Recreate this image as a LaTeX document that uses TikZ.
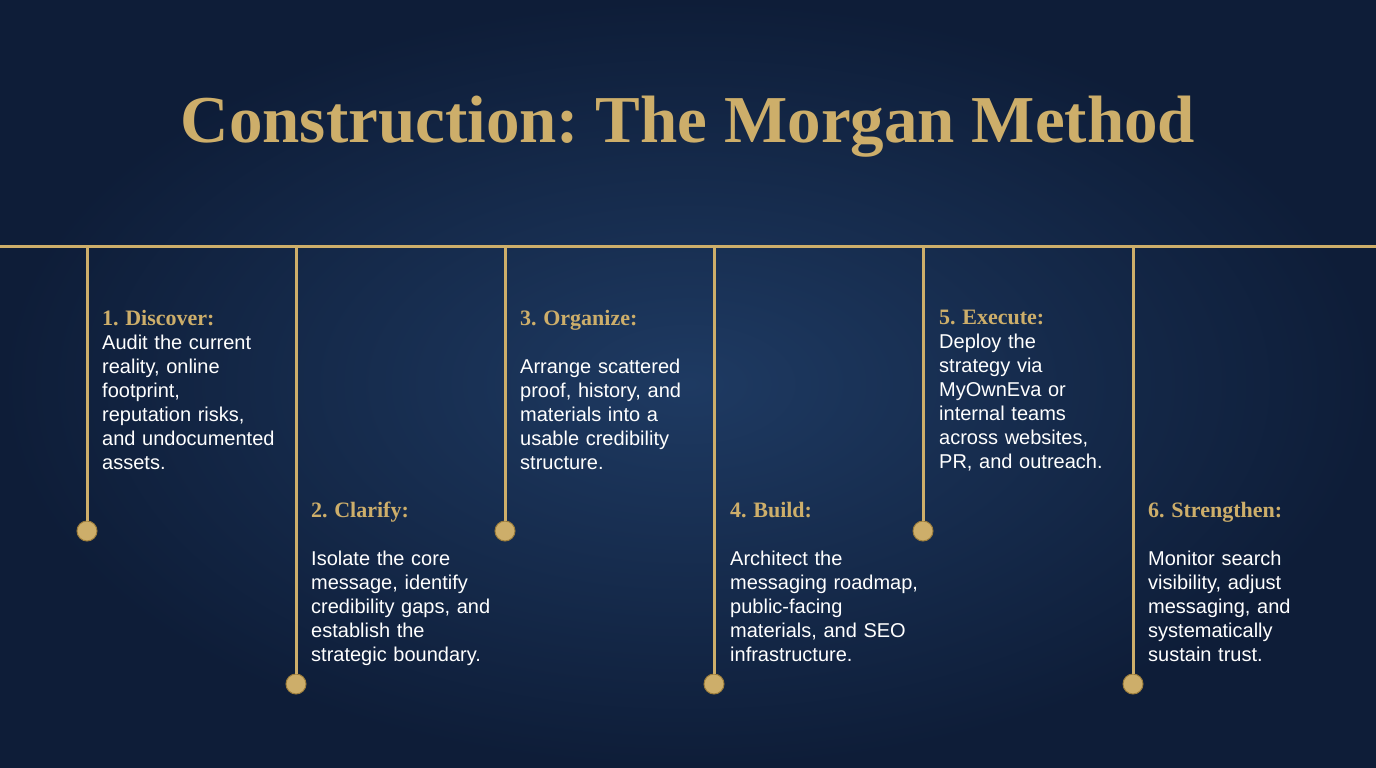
\documentclass[tikz,border=0pt]{standalone}
\usepackage{fontspec}
\setmainfont{Liberation Serif}
\setsansfont{Liberation Sans}
\frenchspacing
\begin{document}
\begin{tikzpicture}[x=1pt,y=-1pt,
  gline/.style={draw=gold,line width=3pt},
  dot/.style={circle,fill=gold,draw=golddark,line width=1pt,minimum size=20pt,inner sep=0pt},
  stepbox/.style={anchor=north west,align=left,inner sep=0pt,text=white,
    font=\sffamily\frenchspacing\fontsize{20}{24}\selectfont,text width=190pt}]
\definecolor{gold}{HTML}{CDAE6A}
\definecolor{golddark}{HTML}{9C7D3C}
\definecolor{bgin}{HTML}{1E3A62}
\definecolor{bgout}{HTML}{0E1D38}
\newcommand{\hd}[1]{{\rmfamily\bfseries\color{gold}\fontsize{22}{24}\selectfont #1}}
\useasboundingbox (0,0) rectangle (1376,768);
\shade[inner color=bgin,outer color=bgout] (0,0) rectangle (1376,768);
\node (title) at (688,127) {\rmfamily\bfseries\color{gold}\fontsize{67}{74}\selectfont Construction: The Morgan Method};
\coordinate (L) at (0,246);
\coordinate (R) at (1376,246);
\draw[gline] (L) -- (R);
\foreach \i/\x/\y in {1/87/531,2/296/684,3/505/531,4/714/684,5/923/531,6/1133/684}{
  \coordinate (t\i) at (\x,246);
  \node[dot] (d\i) at (\x,\y) {};
  \draw[gline] (t\i) -- (d\i.north);
}
\node[stepbox] (s1) at (102,310) {\hd{1. Discover:}\\Audit the current\\reality, online\\footprint,\\reputation risks,\\and undocumented\\assets.};
\node[stepbox] (s2) at (311,502) {\hd{2. Clarify:}\\[24pt]Isolate the core\\message, identify\\credibility gaps, and\\establish the\\strategic boundary.};
\node[stepbox] (s3) at (520,310) {\hd{3. Organize:}\\[24pt]Arrange scattered\\proof, history, and\\materials into a\\usable credibility\\structure.};
\node[stepbox] (s4) at (730,502) {\hd{4. Build:}\\[24pt]Architect the\\messaging roadmap,\\public-facing\\materials, and SEO\\infrastructure.};
\node[stepbox] (s5) at (939,310) {\hd{5. Execute:}\\Deploy the\\strategy via\\MyOwnEva or\\internal teams\\across websites,\\PR, and outreach.};
\node[stepbox] (s6) at (1148,502) {\hd{6. Strengthen:}\\[24pt]Monitor search\\visibility, adjust\\messaging, and\\systematically\\sustain trust.};
\end{tikzpicture}
\end{document}
